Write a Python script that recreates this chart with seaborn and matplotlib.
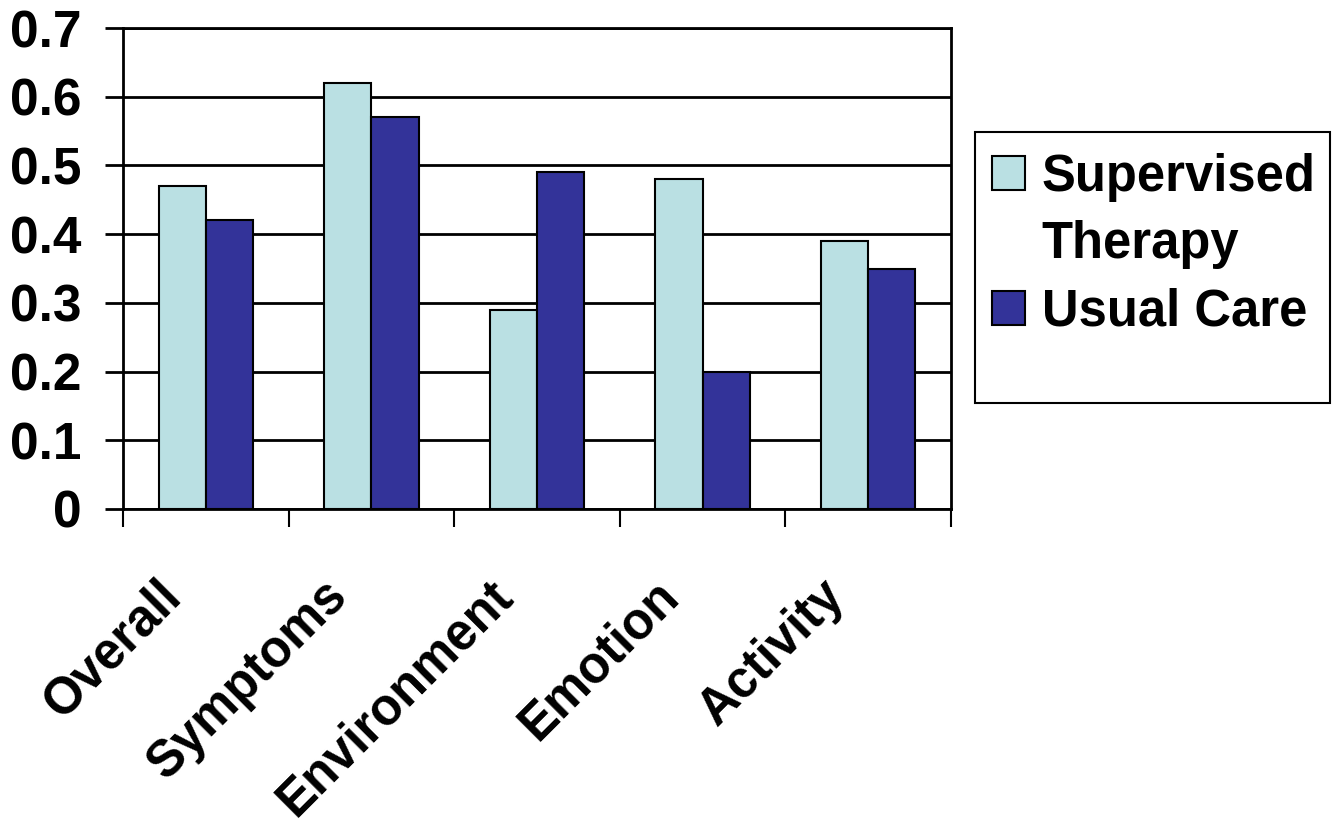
import numpy as np
import pandas as pd
import matplotlib
matplotlib.use("Agg")
import matplotlib.pyplot as plt
import matplotlib.transforms as mtransforms
from matplotlib.patches import Patch, Rectangle
import seaborn as sns

# Mean change scores by domain
domains = ["Overall", "Symptoms", "Environment", "Emotion", "Activity"]
supervised_therapy = [0.47, 0.62, 0.29, 0.48, 0.39]
usual_care = [0.42, 0.57, 0.49, 0.20, 0.35]
groups = ["Supervised Therapy", "Usual Care"]
y_ticks = [0, 0.1, 0.2, 0.3, 0.4, 0.5, 0.6, 0.7]
y_tick_labels = ["0", "0.1", "0.2", "0.3", "0.4", "0.5", "0.6", "0.7"]

colors = ["#BAE0E3", "#333399"]

sns.set_theme(style="white")
plt.rcParams["font.family"] = ["Liberation Sans", "DejaVu Sans"]
plt.rcParams["font.weight"] = "bold"
plt.rcParams["text.color"] = "black"
plt.rcParams["axes.labelcolor"] = "black"
plt.rcParams["xtick.color"] = "black"
plt.rcParams["ytick.color"] = "black"

df = pd.DataFrame({
    "domain": domains * 2,
    "score": supervised_therapy + usual_care,
    "group": [groups[0]] * len(domains) + [groups[1]] * len(domains),
})

fig = plt.figure(figsize=(13.4, 8.23), dpi=100)
ax = fig.add_axes([123 / 1340, 1 - 509 / 823, (951 - 123) / 1340, (509 - 28) / 823])

sns.barplot(
    data=df, x="domain", y="score", hue="group", hue_order=groups,
    palette=colors, width=0.57, saturation=1, errorbar=None,
    edgecolor="black", linewidth=1.5, legend=False, ax=ax,
)

ax.set_xlim(-0.5, len(domains) - 0.5)
ax.set_ylim(0, 0.7)
ax.set_xlabel("")
ax.set_ylabel("")

# Horizontal grid in black, behind bars
ax.yaxis.grid(True, color="black", linewidth=2)
ax.xaxis.grid(False)
ax.set_axisbelow(True)
for s in ax.spines.values():
    s.set_visible(True)
    s.set_color("black")
    s.set_linewidth(2)

ax.set_yticks(y_ticks, y_tick_labels)
ax.tick_params(axis="y", left=True, length=13, width=2, color="black",
               direction="out", pad=17, labelsize=37, labelcolor="black")
for lbl in ax.get_yticklabels():
    lbl.set_fontweight("bold")

# Category labels at centers, tick marks at category boundaries
ax.set_xticks(range(len(domains)))
ax.set_xticklabels(domains, rotation=45, ha="right", va="baseline",
                   rotation_mode="anchor", fontsize=36.5, fontweight="bold",
                   color="black")
ax.tick_params(axis="x", which="major", bottom=True, length=0, pad=64)
ax.set_xticks(np.arange(-0.5, len(domains), 1), minor=True)
ax.tick_params(axis="x", which="minor", bottom=True, length=13, width=1.5,
               color="black", direction="out")
shift = mtransforms.ScaledTranslation(-0.22, 0, fig.dpi_scale_trans)
for lbl in ax.get_xticklabels():
    lbl.set_transform(lbl.get_transform() + shift)

# Legend with its own frame
handles = [
    Patch(facecolor=colors[0], edgecolor="black", linewidth=1.5),
    Patch(facecolor="none", edgecolor="none"),
    Patch(facecolor=colors[1], edgecolor="black", linewidth=1.5),
]
leg = fig.legend(
    handles, ["Supervised", "Therapy", "Usual Care"],
    loc="upper left", bbox_to_anchor=(992 / 1340, 1 - 153 / 823),
    frameon=False, prop={"size": 36.5, "weight": "bold"},
    handlelength=0.65, handleheight=0.66, handletextpad=0.33,
    labelspacing=0.36, borderpad=0, borderaxespad=0,
)
for t in leg.get_texts():
    t.set_color("black")
fig.patches.append(Rectangle(
    (975 / 1340, 1 - 403 / 823), (1330 - 975) / 1340, (403 - 132) / 823,
    transform=fig.transFigure, fill=False, edgecolor="black", linewidth=1.5,
))

fig.savefig("out.png", dpi=100)
